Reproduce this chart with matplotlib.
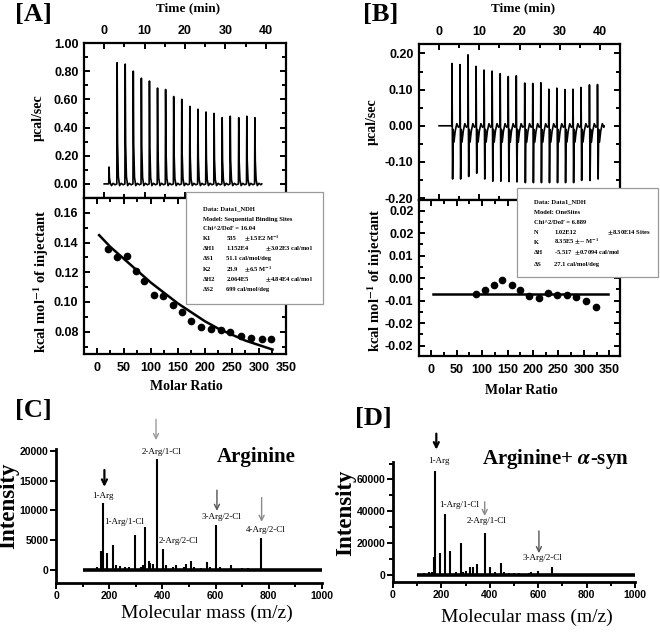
import matplotlib
matplotlib.use('Agg')
import matplotlib.pyplot as plt
from matplotlib.patches import Rectangle
from matplotlib.ticker import MultipleLocator, FixedLocator, FixedFormatter, FormatStrFormatter

plt.rcParams['font.family'] = 'Liberation Sans'
plt.rcParams['font.weight'] = 'bold'
plt.rcParams['mathtext.fontset'] = 'stix'
SERIF = 'Liberation Serif'

# ---- [A] raw ITC: injection times (min) and peak heights (ucal/sec)
a_inj_time = [1.2, 3.2, 5.2, 7.2, 9.2, 11.2, 13.2, 15.2, 17.2, 19.2, 21.2,
              23.2, 25.2, 27.2, 29.2, 31.2, 33.3, 35.3, 37.3]
a_inj_peak = [0.12, 0.86, 0.85, 0.80, 0.75, 0.73, 0.68, 0.67, 0.62, 0.60,
              0.55, 0.53, 0.51, 0.50, 0.47, 0.48, 0.47, 0.48, 0.47]

# ---- [A] integrated heats + fit
a_ratio = [20, 37, 55, 72, 88, 105, 123, 140, 158, 175, 193, 211, 229, 247,
           266, 285, 305, 323]
a_heat = [0.136, 0.130, 0.131, 0.121, 0.114, 0.105, 0.104, 0.098, 0.093,
          0.087, 0.083, 0.082, 0.081, 0.080, 0.077, 0.076, 0.075, 0.075]
a_fit_x = [4, 25, 50, 75, 100, 125, 150, 175, 200, 225, 250, 275, 300, 325]
a_fit_y = [0.145, 0.137, 0.129, 0.121, 0.113, 0.106, 0.099, 0.093, 0.087,
           0.082, 0.078, 0.074, 0.071, 0.068]
a_box = ["Data: Data1_NDH", "Model: Sequential Binding Sites", "Chi^2/DoF = 16.04"]
a_par = [("K1", "535", r"$\pm$1.5E2 M$^{\mathbf{-1}}$", 0),
         ("\u0394H1", "1.152E4", r"$\pm$3.02E3 cal/mol", 1),
         ("\u0394S1", "51.1 cal/mol/deg", "", 0),
         ("K2", "23.9", r"$\pm$6.5 M$^{\mathbf{-1}}$", 0),
         ("\u0394H2", "2.064E5", r"$\pm$4.84E4 cal/mol", 1),
         ("\u0394S2", "699 cal/mol/deg", "", 0)]

# ---- [B] raw ITC: positive and negative spikes
b_inj_time = [3.2, 5.2, 7.2, 9.2, 11.2, 13.2, 15.2, 17.2, 19.2, 21.3, 23.3,
              25.3, 27.3, 29.3, 31.3, 33.3, 35.3, 37.4, 39.4]
b_inj_up = [0.172, 0.169, 0.196, 0.164, 0.154, 0.151, 0.144, 0.136, 0.138,
            0.118, 0.117, 0.119, 0.101, 0.104, 0.100, 0.101, 0.106, 0.113, 0.114]
b_inj_down = [-0.147, -0.147, -0.140, -0.131, -0.147, -0.153, -0.153, -0.154,
              -0.155, -0.157, -0.157, -0.157, -0.157, -0.157, -0.157, -0.157,
              -0.151, -0.151, -0.147]

# ---- [B] integrated heats + fit
b_ratio = [88, 105, 123, 140, 158, 175, 193, 211, 229, 247, 266, 285, 305, 323]
b_heat = [-0.0052, -0.0040, -0.0024, -0.0008, -0.0024, -0.0040, -0.0059,
          -0.0067, -0.0049, -0.0055, -0.0055, -0.0064, -0.0075, -0.0096]
b_fit_x = [3, 347]
b_fit_y = [-0.0052, -0.0052]
b_yticks = [-0.0225, -0.015, -0.0075, 0.0, 0.0075, 0.015, 0.0225]
b_ylabels = ["-0.02", "-0.02", "-0.01", "0.00", "0.01", "0.02", "0.02"]
b_box = ["Data: Data1_NDH", "Model: OneSites", "Chi^2/DoF = 6.889"]
b_par = [("N", "1.02E12", r"$\pm$8.30E14 Sites", 2),
         ("K", r"8.35E5 $\pm$-- M$^{\mathbf{-1}}$", "", 0),
         ("\u0394H", r"-5.517  $\pm$0.7094 cal/mol", "", 0),
         ("\u0394S", "27.1 cal/mol/deg", "", 0)]

# ---- [C] mass spectrum, arginine
c_mz = [153, 171, 178, 193, 213, 225, 240, 260, 275, 296, 318, 327, 336, 348,
        355, 365, 381, 401, 415, 440, 450, 480, 488, 509, 520, 545, 567, 580,
        602, 615, 659, 700, 720, 772]
c_int = [500, 3200, 11150, 2800, 4150, 800, 600, 500, 400, 5850, 400, 700,
         7200, 1400, 1100, 900, 18600, 3400, 800, 500, 700, 400, 1000, 1450,
         500, 300, 1300, 400, 7600, 500, 730, 300, 200, 5400]

# ---- [D] mass spectrum, arginine + a-syn
d_mz = [130, 150, 160, 168, 174, 195, 213, 234, 260, 282, 291, 300, 319, 332,
        346, 379, 401, 420, 445, 460, 480, 500, 520, 560, 570, 599, 655]
d_int = [1000, 1500, 2000, 11000, 65400, 13600, 38000, 14800, 2000, 19900,
         2000, 2500, 4800, 4800, 6700, 26500, 5000, 1500, 7300, 1500, 1200,
         1000, 800, 1200, 2000, 2500, 4800]

W, H = 660, 638
fig = plt.figure(figsize=(6.6, 6.38), dpi=100)


def rect(x0, y0, x1, y1):
    return [x0 / W, 1 - y1 / H, (x1 - x0) / W, (y1 - y0) / H]


def ftext(x, y, s, **kw):
    kw.setdefault('ha', 'center')
    kw.setdefault('va', 'center')
    fig.text(x / W, 1 - y / H, s, **kw)


def itc_trace(times, ups, downs, t_end):
    t, y = [0.0], [0.0]
    for i in range(len(times)):
        ti, up = times[i], ups[i]
        if downs is None:
            t += [ti - 0.08, ti, ti + 0.1, ti + 0.3, ti + 0.6, ti + 1.0, ti + 1.5]
            y += [0.0, up, 0.35 * up, 0.06 * up, -0.012, 0.004, -0.006]
        else:
            t += [ti - 0.05, ti, ti + 0.08, ti + 0.16, ti + 0.3, ti + 0.5,
                  ti + 0.8, ti + 1.2, ti + 1.6]
            y += [0.0, up, 0.0, downs[i], -0.01, -0.045, -0.015, 0.006, -0.004]
    t.append(t_end)
    y.append(0.0)
    return t, y


def origin_style(ax):
    for s in ax.spines.values():
        s.set_linewidth(1.6)
    ax.tick_params(which='both', direction='in', top=True, right=True,
                   width=1.4, labelsize=9, pad=4)
    ax.tick_params(which='major', length=4.5)
    ax.tick_params(which='minor', length=3)


def draw_box(x0, y0, x1, y1, head, pars, lines_y, cols):
    fig.patches.append(Rectangle((x0 / W, 1 - y1 / H), (x1 - x0) / W, (y1 - y0) / H,
                                 transform=fig.transFigure, facecolor='white',
                                 edgecolor='#9a9a9a', lw=0.9, zorder=5))
    kw = dict(family=SERIF, fontweight='bold', fontsize=4.7, ha='left', zorder=6)
    for s, yy in zip(head, lines_y):
        ftext(cols[0], yy, s, **kw)
    for (name, val, err, ec), yy in zip(pars, lines_y[len(head):]):
        ftext(cols[0], yy, name, **kw)
        ftext(cols[1], yy, val, **kw)
        if err:
            ftext(cols[2 + ec], yy, err, **kw)


# ================= [A] =================
ax = fig.add_axes(rect(84, 43, 286, 198))
t, y = itc_trace(a_inj_time, a_inj_peak, None, 39.0)
ax.plot(t, y, color='k', lw=1.2)
ax.set_xlim(-5, 45)
ax.set_ylim(-0.1, 1.0)
ax.xaxis.set_major_locator(MultipleLocator(10))
ax.xaxis.set_minor_locator(MultipleLocator(5))
ax.yaxis.set_major_locator(MultipleLocator(0.2))
ax.yaxis.set_minor_locator(MultipleLocator(0.1))
ax.yaxis.set_major_formatter(FormatStrFormatter('%.2f'))
origin_style(ax)
ax.tick_params(labeltop=True, labelbottom=False)

ax = fig.add_axes(rect(84, 198, 286, 354))
ax.plot(a_fit_x, a_fit_y, color='k', lw=1.8)
ax.plot(a_ratio, a_heat, 'o', color='k', ms=4.5)
ax.set_xlim(-24, 350)
ax.set_ylim(0.065, 0.17)
ax.xaxis.set_major_locator(MultipleLocator(50))
ax.xaxis.set_minor_locator(MultipleLocator(25))
ax.yaxis.set_major_locator(MultipleLocator(0.02))
ax.yaxis.set_minor_locator(MultipleLocator(0.01))
ax.yaxis.set_major_formatter(FormatStrFormatter('%.2f'))
origin_style(ax)
ax.tick_params(axis='x', pad=6)

# ================= [B] =================
ax = fig.add_axes(rect(419, 44, 620, 200))
t, y = itc_trace(b_inj_time, b_inj_up, b_inj_down, 41.0)
ax.plot(t, y, color='k', lw=1.2)
ax.set_xlim(-5, 45)
ax.set_ylim(-0.205, 0.226)
ax.xaxis.set_major_locator(MultipleLocator(10))
ax.xaxis.set_minor_locator(MultipleLocator(5))
ax.yaxis.set_major_locator(MultipleLocator(0.1))
ax.yaxis.set_minor_locator(MultipleLocator(0.05))
ax.yaxis.set_major_formatter(FormatStrFormatter('%.2f'))
origin_style(ax)
ax.tick_params(labeltop=True, labelbottom=False)

ax = fig.add_axes(rect(419, 200, 620, 356))
ax.plot(b_fit_x, b_fit_y, color='k', lw=1.8)
ax.plot(b_ratio, b_heat, 'o', color='k', ms=4.5)
ax.set_xlim(-24, 371)
ax.set_ylim(-0.026, 0.026)
ax.xaxis.set_major_locator(MultipleLocator(50))
ax.xaxis.set_minor_locator(MultipleLocator(25))
ax.yaxis.set_major_locator(FixedLocator(b_yticks))
ax.yaxis.set_major_formatter(FixedFormatter(b_ylabels))
ax.yaxis.set_minor_locator(MultipleLocator(0.00375))
origin_style(ax)
ax.tick_params(axis='x', pad=6)

# ITC labels
ser_b = dict(family=SERIF, fontweight='bold')
for x0, lab in [(33, "[A]"), (381, "[B]")]:
    ftext(x0, 15, lab, fontsize=19, **ser_b)
ftext(188, 8.5, "Time (min)", fontsize=9.5, **ser_b)
ftext(523, 8.0, "Time (min)", fontsize=9.5, **ser_b)
ftext(38, 118, "\u00b5cal/sec", fontsize=10, rotation=90, **ser_b)
ftext(372, 122, "\u00b5cal/sec", fontsize=10, rotation=90, **ser_b)
ylab = r"kcal mol$^{\mathbf{-1}}$ of injectant"
ftext(41, 281, ylab, fontsize=10.5, rotation=90, **ser_b)
ftext(375, 280, ylab, fontsize=10.5, rotation=90, **ser_b)
ftext(186, 387, "Molar Ratio", fontsize=10, **ser_b)
ftext(521, 390, "Molar Ratio", fontsize=10, **ser_b)

draw_box(186, 192, 323, 304, a_box, a_par,
         [209, 219, 228.5, 239, 249, 259, 269.5, 279.5, 289.5],
         [203, 226.5, 244, 265])
draw_box(517, 188, 658, 277, b_box, b_par,
         [201.5, 212, 222.5, 232.3, 242, 253, 264.5],
         [534, 554, 0, 0, 607])


# ================= [C] / [D] =================
def ms_style(ax):
    for side in ['top', 'right']:
        ax.spines[side].set_visible(False)
    for side in ['left', 'bottom']:
        ax.spines[side].set_linewidth(2.0)
    ax.tick_params(which='both', direction='out', width=1.4, labelsize=7.5, pad=1.5)
    ax.tick_params(which='major', length=4)
    ax.tick_params(which='minor', length=3)
    ax.set_xlim(0, 1000)
    ax.xaxis.set_major_locator(MultipleLocator(200))
    ax.xaxis.set_minor_locator(MultipleLocator(100))


def arrow(ax, x, y0, y1, color, lw):
    ax.annotate('', xy=(x, y1), xytext=(x, y0), annotation_clip=False,
                arrowprops=dict(arrowstyle='->', color=color, lw=lw,
                                mutation_scale=9, shrinkA=0, shrinkB=0))


lab_kw = dict(family=SERIF, fontweight='normal', fontsize=6.5, ha='center',
              va='center', clip_on=False)

ax = fig.add_axes(rect(56, 449, 322, 583))
ax.hlines(0, 100, 1000, color='k', lw=2.6)
ax.vlines(c_mz, 0, c_int, color='k', lw=1.5)
ax.set_ylim(-2270, 20340)
ax.yaxis.set_major_locator(MultipleLocator(5000))
ms_style(ax)
ax.text(177, 12400, "1-Arg", **lab_kw)
ax.text(257, 8050, "1-Arg/1-Cl", **lab_kw)
ax.text(398, 19890, "2-Arg/1-Cl", **lab_kw)
ax.text(460, 4850, "2-Arg/2-Cl", **lab_kw)
ax.text(621, 8900, "3-Arg/2-Cl", **lab_kw)
ax.text(789, 6650, "4-Arg/2-Cl", **lab_kw)
ax.text(752, 19040, "Arginine", family=SERIF, fontweight='bold', fontsize=15,
        ha='center', va='center')
arrow(ax, 182, 16800, 13950, 'black', 1.6)
arrow(ax, 376, 25350, 21850, '#9a9a9a', 1.0)
arrow(ax, 605, 13400, 9900, '#555555', 1.0)
arrow(ax, 773, 12150, 8050, '#8a8a8a', 1.0)

ax = fig.add_axes(rect(393, 462, 635, 582))
ax.hlines(0, 100, 1000, color='k', lw=2.6)
ax.vlines(d_mz, 0, d_int, color='k', lw=1.5)
ax.set_ylim(-4580, 71000)
ax.yaxis.set_major_locator(MultipleLocator(20000))
ax.yaxis.set_minor_locator(MultipleLocator(10000))
ms_style(ax)
ax.text(188, 71700, "1-Arg", **lab_kw)
ax.text(275, 43900, "1-Arg/1-Cl", **lab_kw)
ax.text(385, 33870, "2-Arg/1-Cl", **lab_kw)
ax.text(618, 10450, "3-Arg/2-Cl", **lab_kw)
ax.text(670, 73170, r"Arginine+ $\alpha$-syn", family=SERIF, fontweight='bold',
        fontsize=15, ha='center', va='center')
arrow(ax, 179, 88850, 78800, 'black', 1.6)
arrow(ax, 379, 46000, 37000, '#8a8a8a', 1.0)
arrow(ax, 603, 27600, 13600, '#555555', 1.0)

ftext(33, 411, "[C]", fontsize=19, **ser_b)
ftext(373, 418, "[D]", fontsize=19, **ser_b)
ftext(9, 506, "Intensity", fontsize=16.5, rotation=90, **ser_b)
ftext(346, 513, "Intensity", fontsize=16.5, rotation=90, **ser_b)
ftext(207, 613, "Molecular mass (m/z)", fontsize=14, family=SERIF, fontweight='normal')
ftext(527, 617, "Molecular mass (m/z)", fontsize=14, family=SERIF, fontweight='normal')

fig.savefig('out.png', dpi=100)
